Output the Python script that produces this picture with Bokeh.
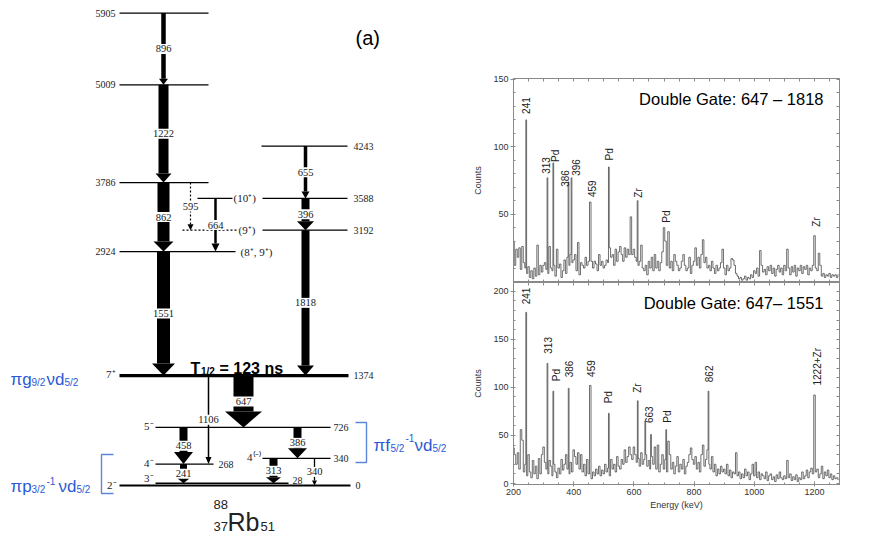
import math
from bokeh.plotting import figure
from bokeh.layouts import row, column
from bokeh.models import Range1d, LinearAxis, FixedTicker, Label
from bokeh.core.properties import value
from bokeh.embed import file_html
from bokeh.resources import INLINE

SERIF = "Liberation Serif"
SANS = "Liberation Sans"
BLUE = "#2b5ad6"
BRACKET = "#5c86d8"
INK = "#1a1a1a"

# ---------------- (a) level scheme data ----------------
level_energy = [5905, 5009, 4243, 3786, 3588, 3192, 2924, 1374, 726, 340, 268, 28, 0]
level_spin = ["", "", "", "", "(10⁺)", "(9⁺)", "(8⁺, 9⁺)", "7⁺", "5⁻", "4⁽⁻⁾", "4⁻", "3⁻", "2⁻"]

gamma_energy = [896, 1222, 862, 1551, 655, 396, 1818, 664, 595, 647, 1106, 458, 386, 241, 313, 340]
gamma_from = [5905, 5009, 3786, 2924, 4243, 3588, 3192, 3588, 3786, 1374, 1374, 726, 726, 268, 340, 340]
gamma_to = [5009, 3786, 2924, 1374, 3588, 3192, 1374, 2924, 3192, 726, 268, 268, 340, 28, 28, 0]
gamma_tentative = [False, False, False, False, False, False, False, False, True,
                   False, False, False, False, False, False, False]

# ---------------- (b), (c) spectra data ----------------
spectrum_energy = list(range(200, 1285, 5))  # keV, channel grid

background_b = [
    30, 12, 24, 18, 25, 9, 26, 14, 10, 6, 11, 3, 8, 2, 10, 4, 27, 5, 12, 7,
    12, 14, 9, 6, 26, 10, 8, 12, 4, 24, 10, 13, 3, 8, 16, 6, 18, 12, 20, 14,
    16, 20, 8, 29, 5, 14, 12, 10, 18, 12, 15, 8, 15, 10, 15, 13, 8, 20, 12, 15,
    10, 12, 16, 14, 25, 18, 20, 12, 24, 15, 22, 26, 20, 15, 25, 18, 24, 20, 26, 20,
    24, 18, 15, 12, 15, 27, 10, 8, 12, 5, 15, 10, 18, 8, 20, 10, 15, 8, 14, 22,
    18, 25, 12, 20, 10, 15, 8, 20, 15, 12, 8, 10, 15, 20, 12, 8, 10, 18, 6, 12,
    15, 25, 12, 18, 10, 20, 31, 14, 18, 10, 12, 8, 15, 10, 6, 12, 8, 10, 14, 24,
    10, 5, 12, 8, 10, 17, 16, 12, 6, 4, 2, 3, 1, 2, 4, 1, 3, 2, 5, 3,
    8, 6, 10, 4, 23, 12, 7, 9, 5, 11, 8, 12, 6, 10, 4, 9, 12, 7, 10, 5,
    12, 8, 24, 10, 5, 11, 7, 12, 4, 10, 8, 12, 6, 11, 9, 12, 5, 10, 8, 12,
    6, 10, 8, 5, 12, 4, 6, 3, 5, 4, 6, 3, 5, 4, 5, 3, 5,
]
background_c = [
    37, 30, 20, 32, 15, 22, 45, 12, 20, 8, 30, 12, 6, 24, 10, 18, 5, 26, 10, 30,
    38, 22, 15, 10, 24, 18, 8, 20, 12, 6, 16, 10, 25, 14, 20, 30, 15, 10, 22, 12,
    35, 28, 20, 32, 15, 30, 12, 20, 8, 25, 10, 14, 5, 12, 8, 15, 10, 18, 8, 14,
    10, 20, 12, 16, 8, 25, 15, 20, 12, 28, 18, 15, 25, 20, 35, 22, 28, 38, 30, 25,
    38, 30, 22, 26, 18, 32, 20, 25, 30, 18, 24, 15, 28, 20, 38, 15, 40, 12, 20, 30,
    15, 25, 12, 20, 30, 15, 22, 10, 18, 28, 12, 20, 15, 25, 10, 18, 22, 30, 37, 25,
    20, 28, 15, 22, 12, 30, 40, 18, 25, 35, 20, 15, 28, 12, 20, 8, 15, 10, 18, 12,
    15, 10, 20, 8, 14, 6, 12, 10, 32, 8, 12, 5, 10, 6, 15, 8, 12, 4, 10, 20,
    8, 22, 6, 12, 4, 10, 8, 5, 12, 3, 8, 10, 4, 7, 2, 9, 5, 12, 6, 4,
    8, 5, 24, 6, 10, 3, 7, 4, 9, 2, 6, 4, 12, 5, 8, 14, 6, 12, 16, 10,
    8, 12, 15, 6, 10, 18, 5, 12, 8, 14, 6, 10, 4, 8, 5, 6, 4,
]

peak_energy_b = [242, 313, 332, 383, 393, 455, 516, 590, 612, 700, 705, 715, 1200, 1215]
peak_counts_b = [120, 77, 88, 74, 77, 59, 85, 48, 60, 40, 30, 37, 34, 21]
peak_energy_c = [225, 242, 313, 332, 384, 455, 516, 613, 638, 656, 707, 715, 848, 1200]
peak_counts_c = [56, 178, 125, 96, 99, 102, 73, 86, 65, 51, 56, 44, 96, 92]

label_text_b = ["241", "313", "Pd", "386", "396", "459", "Pd", "Zr", "Pd", "Zr"]
label_peak_b = [242, 313, 332, 383, 393, 455, 516, 612, 700, 1200]
label_text_c = ["241", "313", "Pd", "386", "459", "Pd", "Zr", "663", "Pd", "862", "1222+Zr"]
label_peak_c = [242, 313, 332, 384, 455, 516, 613, 638, 707, 848, 1200]

gate_b = "Double Gate: 647 – 1818"
gate_c = "Double Gate: 647– 1551"

x_ticks = [200, 400, 600, 800, 1000, 1200]
x_minor = list(range(200, 1300, 50))
y_ticks_b = [50, 100, 150]          # "0" of panel (b) is placed separately
y_zero_label_b = "0"
y_minor_b = list(range(0, 151, 10))
y_ticks_c = [0, 50, 100, 150, 200]
y_minor_c = list(range(0, 201, 10))

# ---------------- layout / style (page pixels) ----------------
PAGE_W, PAGE_H = 876, 535
A_W = 469
KEV_PER_PX = 12.5
Y0_PX = 485.0


def ky(py):
    return (Y0_PX - py) * KEV_PER_PX


def kh(px):
    return px * KEV_PER_PX


level_segments = {
    5905: [(119, 208)], 5009: [(119, 208)], 4243: [(261, 347)], 3786: [(119, 208)],
    3588: [(197, 232), (262, 347)], 3192: [(262, 347)], 2924: [(119, 235)],
    1374: [(119, 348)], 726: [(155, 330)], 340: [(262, 330)], 268: [(155, 213)],
    28: [(155, 288)], 0: [(119, 350)],
}
level_dotted = {3192: (182, 237)}
level_lw = {1374: 3.2, 0: 2.0}
energy_label_pos = {
    5905: (115, "right", 0), 5009: (115, "right", 0), 4243: (353, "left", 0),
    3786: (115, "right", 0), 3588: (353, "left", 0), 3192: (353, "left", 0),
    2924: (115, "right", 0), 1374: (353, "left", 0), 726: (333, "left", 0),
    340: (333, "left", 0), 268: (218, "left", 0), 28: (292, "left", -2.7), 0: (355, "left", 0),
}
spin_label_pos = {
    3588: (233, "left", 0), 3192: (238, "left", 0), 2924: (240, "left", 0),
    1374: (115, "right", -1.5), 726: (153, "right", -1), 340: (260, "right", -1.5),
    268: (153, "right", -1), 28: (153, "right", -5), 0: (116, "right", -1),
}
gamma_x = [163, 163, 163, 163, 305, 305, 305, 215, 190, 243, 208, 183, 297, 183, 273, 314]
shaft_px = [4.5, 10, 12, 13, 3.5, 8, 8, 2.5, 1.2, 20, 1.5, 8, 8, 7, 8, 1.3]
head_w_px = [9, 16, 20, 23, 8, 17, 17, 8, 6, 37, 6, 19, 19, 15, 15, 5]
head_l_px = [6, 9, 10, 12, 7, 9, 10, 8, 6, 16, 7, 12, 10, 6, 6, 5]


def put(fig, x, y, txt, size, color=INK, font=SERIF, style="normal", align="left",
        baseline="middle", angle=0.0):
    fig.text(x=[x], y=[y], text=[txt], text_font=value(font), text_font_size=size,
             text_color=color, text_font_style=style, text_align=align,
             text_baseline=baseline, angle=angle)


# ================= panel (a) =================
pa = figure(width=A_W, height=PAGE_H, x_range=Range1d(0, A_W), y_range=Range1d(ky(PAGE_H), ky(0)),
            output_backend="svg", toolbar_location=None, x_axis_type=None, y_axis_type=None,
            title=None, min_border=0, min_border_left=0, min_border_right=0,
            min_border_top=0, min_border_bottom=0)
pa.outline_line_color = None
pa.background_fill_color = "white"
pa.border_fill_color = "white"

for E in level_energy:
    for (x0, x1) in level_segments[E]:
        pa.segment(x0=[x0], y0=[E], x1=[x1], y1=[E], line_color="black",
                   line_width=level_lw.get(E, 1.3))
for E, (x0, x1) in level_dotted.items():
    pa.segment(x0=[x0], y0=[E], x1=[x1], y1=[E], line_color="black", line_width=1.2,
               line_dash="2 2")

# arrows
ql, qr, qb, qt = [], [], [], []
hx, hy = [], []
for i, eg in enumerate(gamma_energy):
    x = gamma_x[i]
    base = gamma_to[i] + kh(head_l_px[i])
    if gamma_tentative[i]:
        pa.segment(x0=[x], y0=[gamma_from[i]], x1=[x], y1=[base], line_color="black",
                   line_width=1.2, line_dash="2 2")
    else:
        ql.append(x - shaft_px[i] / 2)
        qr.append(x + shaft_px[i] / 2)
        qb.append(base)
        qt.append(gamma_from[i])
    hx.append([x - head_w_px[i] / 2, x + head_w_px[i] / 2, x])
    hy.append([base, base, gamma_to[i]])
pa.quad(left=ql, right=qr, bottom=qb, top=qt, fill_color="black", line_color=None)
pa.patches(xs=hx, ys=hy, fill_color="black", line_color=None)

# gamma labels on white patches
g_mid = [(a + b) / 2 for a, b in zip(gamma_from, gamma_to)]
g_txt = [str(e) for e in gamma_energy]
g_box = [max(len(t) * 5.4 + 2, w + 2) for t, w in zip(g_txt, shaft_px)]
pa.rect(x=gamma_x, y=g_mid, width=g_box, height=[10] * len(g_txt),
        width_units="screen", height_units="screen", fill_color="white", line_color=None)
pa.text(x=gamma_x, y=g_mid, text=g_txt, text_font=value(SERIF), text_font_size="10.5px",
        text_color=INK, text_align="center", text_baseline="middle")

# level energy and spin labels
for E, spin in zip(level_energy, level_spin):
    x, al, dy = energy_label_pos[E]
    put(pa, x, E - kh(dy), str(E), "10px", align=al)
    if spin:
        x, al, dy = spin_label_pos[E]
        put(pa, x, E - kh(dy), spin, "11px", align=al)

# half-life
put(pa, 190, ky(368), "T", "16px", color="black", font=SANS, style="bold", baseline="alphabetic")
put(pa, 200.5, ky(371), "1/2", "10px", color="black", font=SANS, style="bold", baseline="alphabetic")
put(pa, 219, ky(368), "= 123 ns", "16px", color="black", font=SANS, style="bold", baseline="alphabetic")

# configuration labels (blue)
config_pieces = [
    ("πg", 10, 379, "17px"), ("9/2", 31, 382, "10px"), ("νd", 46, 379, "17px"), ("5/2", 64, 382, "10px"),
    ("πp", 10, 486, "17px"), ("3/2", 31, 488.5, "10px"), ("-1", 46, 480, "10px"),
    ("νd", 58, 486, "17px"), ("5/2", 76, 488.5, "10px"),
    ("πf", 373, 445, "17px"), ("5/2", 390, 447.5, "10px"), ("-1", 405, 437, "10px"),
    ("νd", 414, 445, "17px"), ("5/2", 432, 447.5, "10px"),
]
for txt, x, yb, sz in config_pieces:
    put(pa, x, ky(yb), txt, sz, color=BLUE, font=SANS, baseline="alphabetic")

# brackets
pa.multi_line(xs=[[355, 366, 366, 355], [113, 101, 101, 113]],
              ys=[[ky(422), ky(422), ky(462), ky(462)], [ky(454), ky(454), ky(493), ky(493)]],
              line_color=BRACKET, line_width=1.4)

# nucleus label and panel tag
put(pa, 227, ky(521), "Rb", "25px", color="#222", font=SANS, baseline="alphabetic")
put(pa, 213, ky(504), "88", "13px", color="#222", font=SANS, baseline="alphabetic")
put(pa, 213, ky(526), "37", "13px", color="#222", font=SANS, baseline="alphabetic")
put(pa, 260, ky(526), "51", "13px", color="#222", font=SANS, baseline="alphabetic")
put(pa, 355, ky(37), "(a)", "20px", color="black", font=SANS)

# ================= panels (b) and (c) =================
X_LO, X_HI = 200, 1283
FRAME_L, FRAME_R = 513.0, 839.0
XSCALE = (FRAME_R - FRAME_L) / (X_HI - X_LO)
AX = "#8a8a8a"
B_W = PAGE_W - A_W


def bx(px):
    return X_LO + (px - FRAME_L) / XSCALE


def plain_axis(ticks, minor):
    return LinearAxis(ticker=FixedTicker(ticks=[], minor_ticks=sorted(set(ticks) | set(minor))),
                      major_tick_out=0, major_tick_in=0, minor_tick_out=0, minor_tick_in=3,
                      axis_line_color=AX, minor_tick_line_color=AX)


def add_axes(p, yt, ym, show_x_labels):
    left = LinearAxis(ticker=FixedTicker(ticks=yt, minor_ticks=ym), axis_label="Counts",
                      axis_label_text_font_size="9px", axis_label_text_font_style="normal",
                      axis_label_text_font=SANS, axis_label_standoff=7,
                      axis_label_text_color="#333",
                      major_label_text_font_size="9px", major_label_text_font=SANS,
                      major_label_text_color="#333", major_label_standoff=2,
                      major_tick_out=3, major_tick_in=0, minor_tick_out=0, minor_tick_in=2,
                      axis_line_color=AX, major_tick_line_color=AX, minor_tick_line_color=AX)
    p.add_layout(left, "left")
    p.add_layout(plain_axis(yt, ym), "right")
    p.add_layout(plain_axis(x_ticks, x_minor), "above")
    if show_x_labels:
        bottom = LinearAxis(ticker=FixedTicker(ticks=x_ticks, minor_ticks=x_minor),
                            axis_label="Energy (keV)", axis_label_text_font_size="9px",
                            axis_label_text_font_style="normal", axis_label_text_font=SANS,
                            axis_label_text_color="#333", axis_label_standoff=2,
                            major_label_text_font_size="9px", major_label_text_font=SANS,
                            major_label_text_color="#333", major_label_standoff=2,
                            major_tick_out=2, major_tick_in=3, minor_tick_out=0, minor_tick_in=2,
                            axis_line_color=AX, major_tick_line_color=AX, minor_tick_line_color=AX)
        p.add_layout(bottom, "below")
    else:
        p.add_layout(plain_axis(x_ticks, x_minor), "below")


def spectrum_panel(top_px, bottom_px, y0, y1, frame_top_px, frame_bottom_px,
                   background, peak_e, peak_c, lab_text, lab_peak, lab_dx, lab_gap,
                   yt, ym, show_x_labels, gate, gate_y_px, tag, tag_y_px, zero_label=None):
    p = figure(width=B_W, height=int(bottom_px - top_px), x_range=Range1d(X_LO, X_HI),
               y_range=Range1d(y0, y1),
               output_backend="svg", toolbar_location=None, x_axis_type=None, y_axis_type=None,
               title=None, min_border_left=int(FRAME_L - A_W), min_border_right=int(PAGE_W - FRAME_R),
               min_border_top=int(frame_top_px - top_px), min_border_bottom=int(bottom_px - frame_bottom_px))
    p.outline_line_color = AX
    p.background_fill_color = "white"
    p.border_fill_color = "white"
    yscale = (frame_bottom_px - frame_top_px) / (y1 - y0)

    def by(py):
        return y0 + (frame_bottom_px - py) / yscale

    counts = dict(zip(spectrum_energy, background))
    for e, c in zip(peak_e, peak_c):
        counts[e] = c
    xs = sorted(counts)
    ys = [counts[e] for e in xs]
    p.step(xs, ys, mode="center", line_color="#4a4a4a", line_width=0.8)

    height_of = dict(zip(peak_e, peak_c))
    lx = [e + dx / XSCALE for e, dx in zip(lab_peak, lab_dx)]
    ly = [height_of[e] + g / yscale for e, g in zip(lab_peak, lab_gap)]
    p.text(x=lx, y=ly, text=lab_text, angle=math.pi / 2, text_align="left",
           text_baseline="middle", text_font=value(SANS), text_font_size="10px",
           text_color="#222")
    p.text(x=[bx(823)], y=[by(gate_y_px)], text=[gate], text_align="right",
           text_baseline="middle", text_font=value(SANS), text_font_size="16.5px",
           text_color="black")
    p.add_layout(Label(x=bx(848), y=by(tag_y_px), text=tag, text_font=SANS,
                       text_font_size="19px", text_color="black", text_baseline="middle"))
    if zero_label is not None:
        # zero tick of the upper panel: lifted a little so that it stays inside the canvas
        p.add_layout(Label(x=bx(FRAME_L - 5), y=by(frame_bottom_px - 5.5), text=zero_label,
                           text_font=SANS, text_font_size="9px", text_color="#333",
                           text_align="right", text_baseline="middle"))
        p.segment(x0=[bx(FRAME_L - 3)], y0=[0], x1=[bx(FRAME_L)], y1=[0], line_color=AX)
    add_axes(p, yt, ym, show_x_labels)
    return p


pb = spectrum_panel(0, 282, -0.74, 150.74, 78.0, 282.0, background_b,
                    peak_energy_b, peak_counts_b, label_text_b, label_peak_b,
                    [0, -2, 2.4, -4, 4.5, 2, 0.6, 1, 2, 2],
                    [6, 4, 1, -5, 2, 5, 6.5, 3, 5, 9],
                    y_ticks_b, y_minor_b, False, gate_b, 98, "(b)", 104, y_zero_label_b)
pc = spectrum_panel(282, PAGE_H, -1.04, 209.05, 282.0, 484.0, background_c,
                    peak_energy_c, peak_counts_c, label_text_c, label_peak_c,
                    [0, 0, 3, 0, 1, 0, 0, 4, 1, 0, 2.5],
                    [8, 9.6, 10, 11, 8.5, 10, 8, -2, 7, 9, 9.5],
                    y_ticks_c, y_minor_c, True, gate_c, 302, "(c)", 319)

layout = row(pa, column(pb, pc))
open("out.html", "w").write(file_html(layout, INLINE, title="88Rb level scheme"))
